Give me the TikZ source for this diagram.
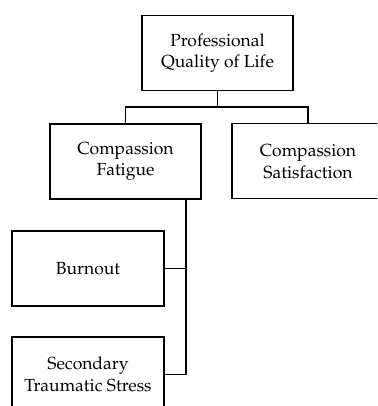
\documentclass[tikz,border=0pt]{standalone}
\usepackage[T1]{fontenc}
\usepackage{mathpazo}
\begin{document}
\begin{tikzpicture}[x=1pt,y=1pt,
  box/.style={draw=black, line width=1.2pt, minimum width=151pt, minimum height=75pt, align=center, inner sep=0pt,
    font=\fontsize{17.5}{21.5}\selectfont},
  conn/.style={draw=black, line width=1.2pt}]
\useasboundingbox (0,0) rectangle (377,406);
\clip (0,0) rectangle (377,406);
\node[box] (top) at (217.5,353) {Professional\\Quality of Life};
\node[box] (cf) at (125.5,244.5) {Compassion\\Fatigue};
\node[box, draw=none] (cs) at (308,244.5) {Compassion\\Satisfaction};
\draw[conn] (cs.north west) rectangle ++(180,-75);
\node[box, minimum width=152pt] (burn) at (88,137.5) {Burnout};
\node[box, minimum width=152pt] (sts) at (88,31.5) {Secondary\\Traumatic Stress};
\coordinate (bar) at (0,299);
\coordinate (trunk) at (186,0);
\draw[conn] (top.south) -- (top.south |- bar);
\draw[conn] (cf.north) |- (top.south |- bar) -| (cs.north);
\draw[conn] (cf.south -| trunk) |- (sts.east);
\draw[conn] (burn.east) -- (burn.east -| trunk);
\end{tikzpicture}
\end{document}
